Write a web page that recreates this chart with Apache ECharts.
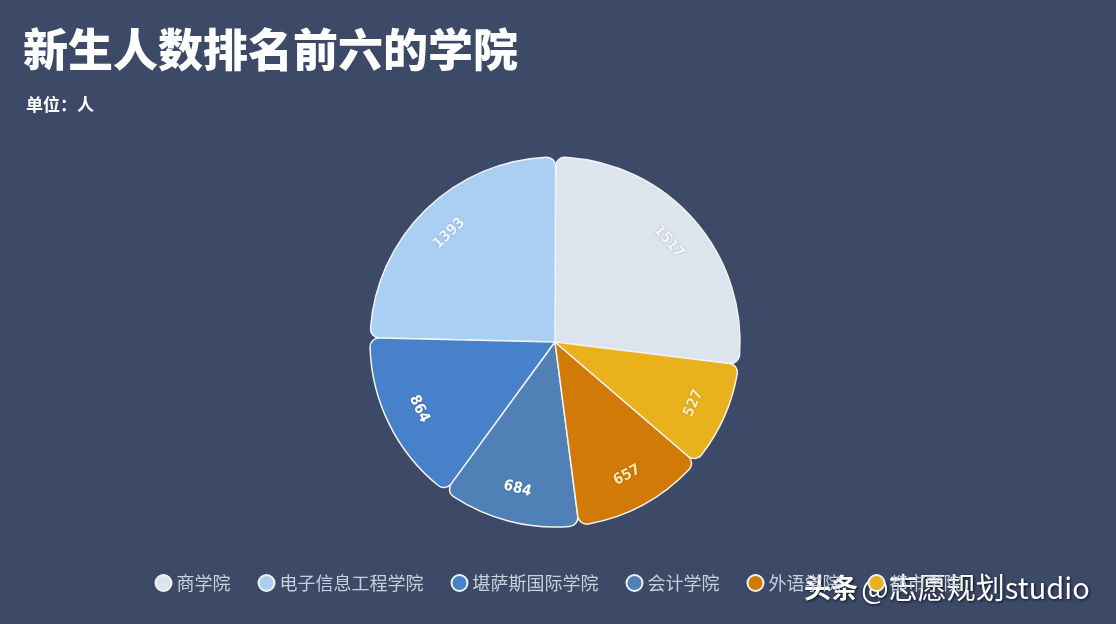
<!DOCTYPE html>
<html><head><meta charset="utf-8">
<script src="https://cdn.jsdelivr.net/npm/echarts@6/dist/echarts.min.js"></script>
<style>html,body{margin:0;padding:0;background:#3c4a68;}#c{width:1116px;height:624px;}</style>
</head><body><div id="c"></div>
<script>
const categories = ['商学院', '电子信息工程学院', '堪萨斯国际学院', '会计学院', '外语学院', '都市学院'];
const values = [1517, 1393, 864, 684, 657, 527];
const colors = ['#dce4ee', '#a9d0f3', '#4681c9', '#4f80b6', '#d27a08', '#e9b11b'];
const labelColors = ['#f4f7fb', '#eef6ff', '#ffffff', '#ffffff', '#fbe7a6', '#fbeab0'];
const titleText = '新生人数排名前六的学院';
const unitText = '单位：人';

const data = categories.map((n, i) => ({ name: n, value: values[i], itemStyle: { color: colors[i] } }));
const chart = echarts.init(document.getElementById('c'));
chart.setOption({
  backgroundColor: '#3c4a68',
  title: [
    { text: titleText, left: 18, top: 22, textStyle: { color: '#ffffff', fontSize: 45, fontWeight: 900, fontFamily: 'Noto Sans CJK SC' } },
    { text: unitText, left: 21, top: 91, textStyle: { color: '#ffffff', fontSize: 17, fontWeight: 'bold', fontFamily: 'Noto Sans CJK SC' } }
  ],
  legend: {
    bottom: 27, left: 'center', icon: 'circle', itemWidth: 16, itemHeight: 16, itemGap: 27,
    textStyle: { color: '#c9d0dc', fontSize: 18, fontFamily: 'Noto Sans CJK SC' },
    data: categories
  },
  series: [
    {
      type: 'pie', center: [555, 342], radius: [0, 185], startAngle: -7, clockwise: false,
      itemStyle: { borderColor: '#f2f2f2', borderWidth: 1.5, borderRadius: 9 },
      label: { show: false }, labelLine: { show: false },
      data: data
    },
    {
      type: 'pie', center: [555, 342], radius: [112, 185], startAngle: -7, clockwise: false,
      silent: true, legendHoverLink: false,
      itemStyle: { color: 'rgba(0,0,0,0)', borderWidth: 0 },
      label: { show: true, position: 'inside', rotate: 'tangential', fontSize: 15, fontWeight: 'bold',
        fontFamily: 'Liberation Sans Narrow, DejaVu Sans Condensed, sans-serif', formatter: '{c}',
        textShadowColor: 'rgba(40,50,80,0.35)', textShadowBlur: 2 },
      labelLine: { show: false },
      data: categories.map((n, i) => ({ name: n, value: values[i], label: { color: labelColors[i] } }))
    }
  ],
  graphic: [
    { type: 'text', left: 804, top: 573, style: { text: '{a|头条} {b|@志愿规划studio}',
      rich: {
        a: { fill: '#ffffff', fontSize: 27, fontWeight: 'bold', fontFamily: 'Noto Sans CJK SC',
          textShadowColor: 'rgba(0,0,0,0.8)', textShadowBlur: 3, textShadowOffsetX: 1, textShadowOffsetY: 1 },
        b: { fill: '#ffffff', fontSize: 29, fontFamily: 'Noto Sans CJK SC',
          textShadowColor: 'rgba(0,0,0,0.8)', textShadowBlur: 3, textShadowOffsetX: 1, textShadowOffsetY: 1 }
      } } }
  ]
});
</script></body></html>
